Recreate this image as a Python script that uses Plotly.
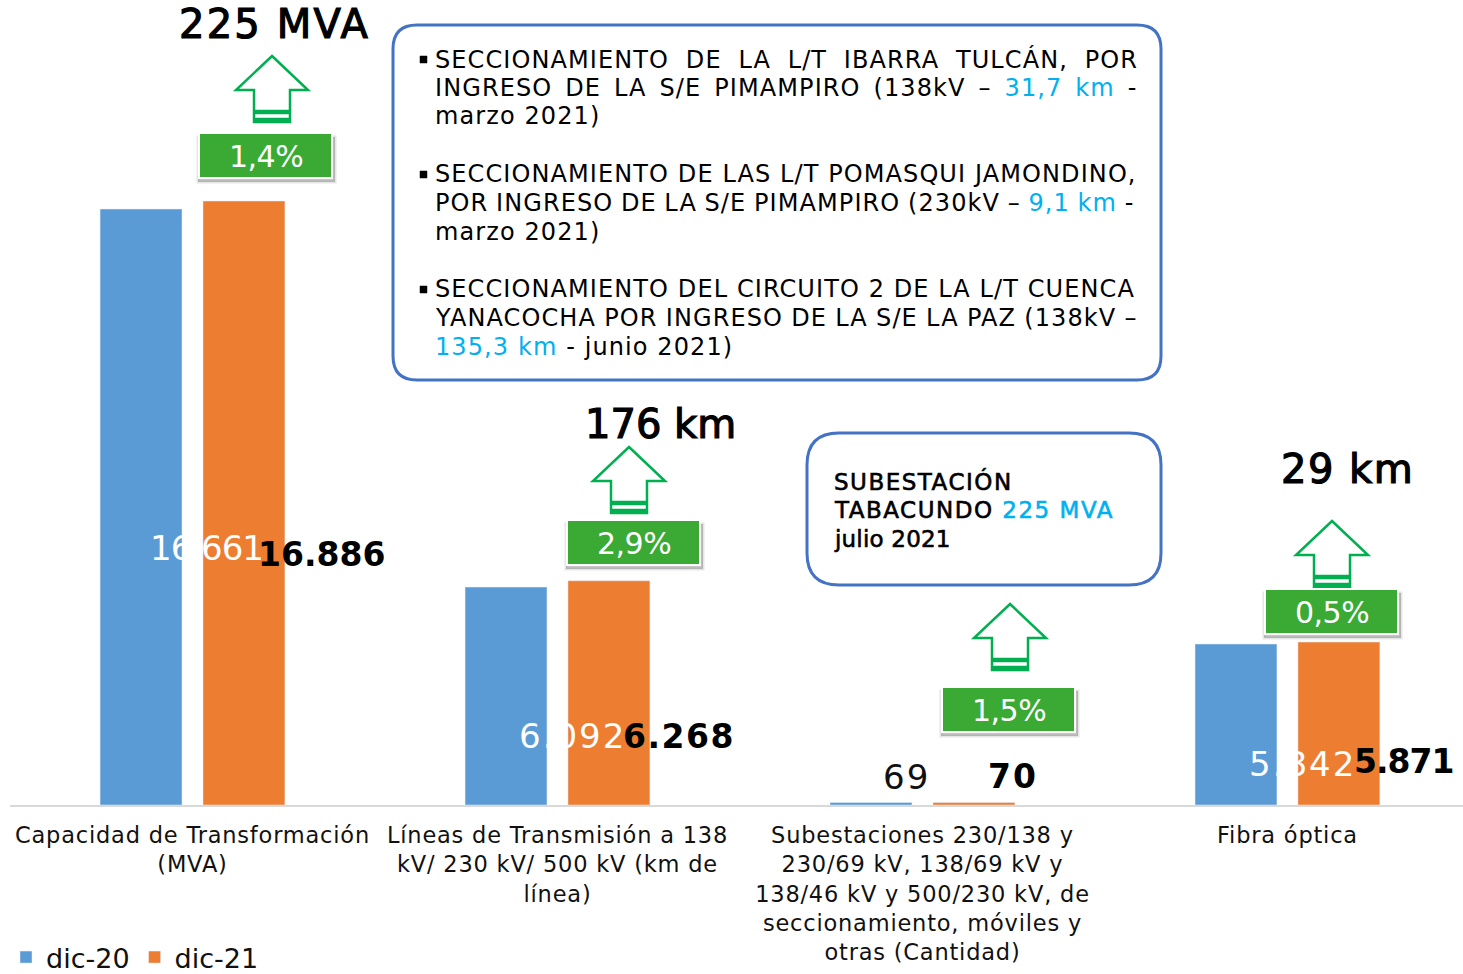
import plotly.graph_objects as go

W, H = 1463, 974
BASE = 805
LEFT = 10
FONT = "DejaVu Sans"
categories = ["Capacidad de Transformación<br>(MVA)",
              "Líneas de Transmisión a 138<br>kV/ 230 kV/ 500 kV (km de<br>línea)",
              "Subestaciones 230/138 y<br>230/69 kV, 138/69 kV y<br>138/46 kV y 500/230 kV, de<br>seccionamiento, móviles y<br>otras (Cantidad)",
              "Fibra óptica"]
dic20 = [16661, 6092, 69, 4500]
dic21 = [16886, 6268, 70, 4555]
labels20 = ["16.661", "6.092", "69", "5.842"]
labels21 = ["16.886", "6.268", "70", "5.871"]
increments = ["225 MVA", "176 km", "29 km"]
percents = ["1,4%", "2,9%", "1,5%", "0,5%"]

BLUE, ORANGE, GREEN, ARROW = "#5B9BD5", "#ED7D31", "#3AAA35", "#00B050"
FRAME, CYAN = "#4472C4", "#00B0F0"

def px(x): return (x - LEFT) / (W - LEFT)
def py(y): return 1 - y / BASE

fig = go.Figure()
fig.add_bar(name="dic-20", x=categories, y=dic20, marker_color=BLUE)
fig.add_bar(name="dic-21", x=categories, y=dic21, marker_color=ORANGE)

ann, shapes = [], []
def text(x, y, s, size, color="#000000", anchor="center", bold=False, ls=0, ws=0, stroke=0):
    style = f"letter-spacing:{ls}px;word-spacing:{ws}px"
    if stroke:
        style += f";stroke:{color};stroke-width:{stroke}px"
    s = f"<b>{s}</b>" if bold else s
    ann.append(dict(xref="paper", yref="paper", x=px(x), y=py(y), text=f'<span style="{style}">{s}</span>',
                    showarrow=False, xanchor=anchor, yanchor="middle", align="left",
                    font=dict(family=FONT, size=size, color=color)))

def path(points):
    return "M" + " L".join(f"{px(a):.5f},{py(b):.5f}" for a, b in points) + " Z"

def rounded(x0, y0, x1, y1, r):
    return (f"M{px(x0+r)},{py(y0)} L{px(x1-r)},{py(y0)} Q{px(x1)},{py(y0)} {px(x1)},{py(y0+r)} "
            f"L{px(x1)},{py(y1-r)} Q{px(x1)},{py(y1)} {px(x1-r)},{py(y1)} L{px(x0+r)},{py(y1)} "
            f"Q{px(x0)},{py(y1)} {px(x0)},{py(y1-r)} L{px(x0)},{py(y0+r)} Q{px(x0)},{py(y0)} {px(x0+r)},{py(y0)} Z")

def shape(d, fill, line, lw):
    shapes.append(dict(type="path", xref="paper", yref="paper", path=d, fillcolor=fill,
                       line=dict(color=line, width=lw), layer="above"))

# data labels
for (x, y, ls), s in zip([(207, 548, -1), (572, 736, 2), (907, 777, 2), (1302, 764, 2)], labels20):
    text(x, y, s, 34, "#FFFFFF" if s != "69" else "#111111", ls=ls)
for (x, y, ls), s in zip([(321, 554, 0), (678.5, 736, 1.5), (1013, 776, 2), (1403, 761, -1)], labels21):
    text(x, y, s, 33, bold=True, ls=ls)

# increments
for (x, y, ls), s in zip([(274, 24, 2.2), (660, 424, 0), (1347, 469, 1.5)], increments):
    text(x, y, s, 40, "#000000", ls=ls, stroke=1.2)

# arrows
for tx, ty in [(272, 56), (629, 447), (1010, 604), (1332, 521)]:
    pts = [(tx, ty), (tx+36, ty+34), (tx+18, ty+34), (tx+18, ty+66), (tx-18, ty+66), (tx-18, ty+34), (tx-36, ty+34)]
    shape(path(pts), "#FFFFFF", ARROW, 2.5)
    shape(path([(tx-18, ty+54), (tx+18, ty+54), (tx+18, ty+58), (tx-18, ty+58)]), ARROW, ARROW, 0.5)
    shape(path([(tx-18, ty+62), (tx+18, ty+62), (tx+18, ty+66), (tx-18, ty+66)]), ARROW, ARROW, 0.5)

# percent boxes
for (x0, y0), s in zip([(199, 133), (567, 520), (942, 687), (1265, 589)], percents):
    shape(path([(x0-1, y0+4), (x0+136, y0+4), (x0+136, y0+49), (x0-1, y0+49)]), "rgba(90,90,90,0.35)", "rgba(90,90,90,0.15)", 3)
    shape(path([(x0, y0), (x0+133, y0), (x0+133, y0+45), (x0, y0+45)]), GREEN, "#FFFFFF", 2)
    text(x0+67, y0+23, s, 30, "#FFFFFF", ls=-0.5)

# callouts
shape(rounded(393, 25, 1161, 380, 24), "#FFFFFF", FRAME, 3)
shape(rounded(807, 433, 1161, 585, 32), "#FFFFFF", FRAME, 3)

def c(s, extra=""): return f'<span style="color:{CYAN};fill:{CYAN}{extra}">{s}</span>'
lines = [(59, "SECCIONAMIENTO DE LA L/T IBARRA TULCÁN, POR", 8),
         (88, "INGRESO DE LA S/E PIMAMPIRO (138kV – " + c("31,7 km") + " -", 4.2),
         (116, "marzo 2021)", 0),
         (174, "SECCIONAMIENTO DE LAS L/T POMASQUI JAMONDINO,", 0),
         (203, "POR INGRESO DE LA S/E PIMAMPIRO (230kV – " + c("9,1 km") + " -", -1.1),
         (232, "marzo 2021)", 0),
         (289, "SECCIONAMIENTO DEL CIRCUITO 2 DE LA L/T CUENCA", 0),
         (318, "YANACOCHA POR INGRESO DE LA S/E LA PAZ (138kV –", -0.5),
         (347, c("135,3 km") + " - junio 2021)", 0)]
for y, s, ws in lines:
    text(433, y, s, 24, anchor="left", ls=1.1, ws=ws)
for y in (59, 174, 289):
    shape(path([(420, y-3), (427, y-3), (427, y+4), (420, y+4)]), "#000000", "#000000", 0.5)

text(832, 481, "SUBESTACIÓN", 23, anchor="left", ls=1.5, stroke=0.6)
text(832, 510, "TABACUNDO " + c("225 MVA", f";stroke:{CYAN}"), 23, anchor="left", ls=1.5, stroke=0.6)
text(832, 539, "julio 2021", 23, anchor="left", ls=0.2, stroke=0.6)

fig.update_layout(
    width=W, height=H, plot_bgcolor="#FFFFFF", paper_bgcolor="#FFFFFF",
    margin=dict(l=LEFT, r=0, t=0, b=H-BASE, autoexpand=False),
    barmode="group", bargap=0.436, bargroupgap=0.204,
    font=dict(family=FONT, color="#111111"),
    annotations=ann, shapes=shapes,
    legend=dict(orientation="h", x=px(6), y=py(982), xanchor="left", yanchor="bottom",
                font=dict(size=27, family=FONT, color="#111111"), bgcolor="rgba(0,0,0,0)"),
    xaxis=dict(range=[-0.5, 3.481], showline=True, linecolor="#D9D9D9", linewidth=2, ticks="",
               tickangle=0, ticklabelstandoff=9, tickfont=dict(size=22.5, family=FONT, color="#111111"), automargin=False),
    yaxis=dict(range=[0, 22505], visible=False),
)
fig.write_html("out.html", config=dict(displayModeBar=False),
               post_script="document.body.style.margin='0';document.body.style.overflow='hidden';"
                           "document.querySelectorAll('.xtick text').forEach(t=>t.style.letterSpacing='0.8px');")
